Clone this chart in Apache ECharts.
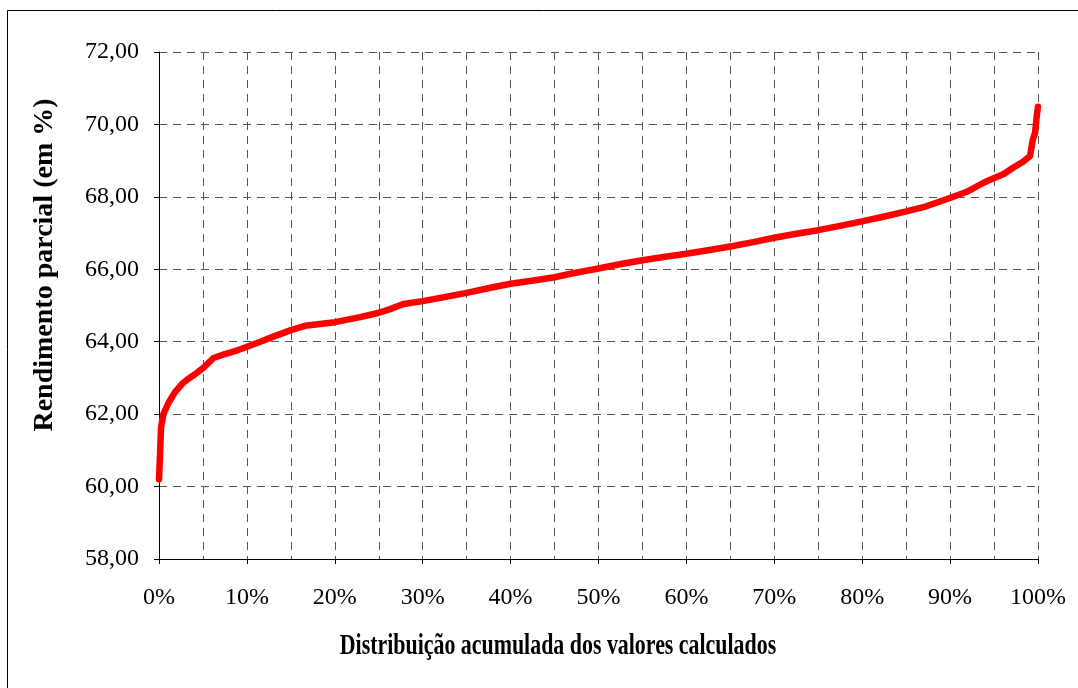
<!DOCTYPE html>
<html>
<head>
<meta charset="utf-8">
<script src="https://cdn.jsdelivr.net/npm/echarts@6/dist/echarts.min.js"></script>
<style>
html,body{margin:0;padding:0;background:#fff;}
#chart{width:1078px;height:688px;}
</style>
</head>
<body>
<div id="chart"></div>
<script>
// Data
const xPercent = [0, 0.12, 0.23, 0.5, 1.06, 1.8, 2.6, 3.3, 4.1, 5.1, 6.2, 7.5, 9.0, 10, 11.3, 12.8, 15, 16.6, 20, 22.9, 25, 26.3, 27.8, 30, 32, 35, 37.7, 40, 42.6, 45, 47.1, 50, 52.4, 55, 57.4, 60, 62.3, 65, 67.6, 70, 72.5, 75, 77.9, 79.7, 82.4, 84.9, 87.3, 89.9, 91.9, 93.8, 94.9, 96.1, 97.2, 98.3, 99.1, 99.4, 99.66, 99.85, 100];
const rendimento = [60.2, 60.9, 61.63, 62.0, 62.3, 62.6, 62.83, 62.97, 63.1, 63.29, 63.55, 63.66, 63.77, 63.86, 63.98, 64.12, 64.32, 64.44, 64.54, 64.68, 64.8, 64.9, 65.04, 65.12, 65.21, 65.35, 65.49, 65.6, 65.69, 65.78, 65.89, 66.02, 66.14, 66.25, 66.34, 66.43, 66.52, 66.63, 66.75, 66.87, 66.98, 67.08, 67.22, 67.31, 67.45, 67.59, 67.74, 67.96, 68.14, 68.39, 68.51, 68.63, 68.81, 68.97, 69.13, 69.57, 69.76, 70.22, 70.49];
const xTitle = 'Distribuição acumulada dos valores calculados';
const yTitle = 'Rendimento parcial (em %)';
const yMin = 58, yMax = 72, yStep = 2;
const xMin = 0, xMax = 100, xStep = 10;

const seriesData = xPercent.map((x, i) => [x, rendimento[i]]);
const font = '"Liberation Serif", "Times New Roman", serif';
const gridLine = { show: true, lineStyle: { color: '#555', width: 1, type: [8, 6] } };

const chart = echarts.init(document.getElementById('chart'), null, { renderer: 'canvas' });
chart.setOption({
  backgroundColor: '#fff',
  animation: false,
  grid: { left: 159, right: 40, top: 52, bottom: 129, containLabel: false },
  xAxis: {
    type: 'value', min: xMin, max: xMax, interval: xStep,
    axisLine: { show: true, lineStyle: { color: '#000', width: 1 } },
    axisTick: { show: true, length: 5, lineStyle: { color: '#000' } },
    minorTick: { show: false, splitNumber: 2 },
    splitLine: gridLine,
    minorSplitLine: gridLine,
    axisLabel: { formatter: v => v + '%', color: '#000', fontFamily: font, fontSize: 24, margin: 27 }
  },
  yAxis: {
    type: 'value', min: yMin, max: yMax, interval: yStep,
    axisLine: { show: true, lineStyle: { color: '#000', width: 1 } },
    axisTick: { show: true, length: 5, lineStyle: { color: '#000' } },
    splitLine: gridLine,
    axisLabel: { formatter: v => v.toFixed(2).replace('.', ','), color: '#000', fontFamily: font, fontSize: 24, margin: 20 }
  },
  series: [{
    type: 'line',
    data: seriesData,
    showSymbol: false,
    smooth: false,
    lineStyle: { color: '#ff0000', width: 6.5, cap: 'round', join: 'round' },
    z: 5
  }],
  graphic: [
    { type: 'rect', shape: { x: 7.5, y: 10.5, width: 1200, height: 800 }, style: { fill: 'none', stroke: '#000', lineWidth: 1 }, silent: true },
    { type: 'text', x: 558, y: 646, scaleX: 0.73, style: { text: xTitle, font: 'bold 30px ' + font, fill: '#000', textAlign: 'center', textVerticalAlign: 'middle' } },
    { type: 'text', x: 45, y: 265, rotation: Math.PI / 2, style: { text: yTitle, font: 'bold 28px ' + font, fill: '#000', textAlign: 'center', textVerticalAlign: 'middle' } }
  ]
});
</script>
</body>
</html>
